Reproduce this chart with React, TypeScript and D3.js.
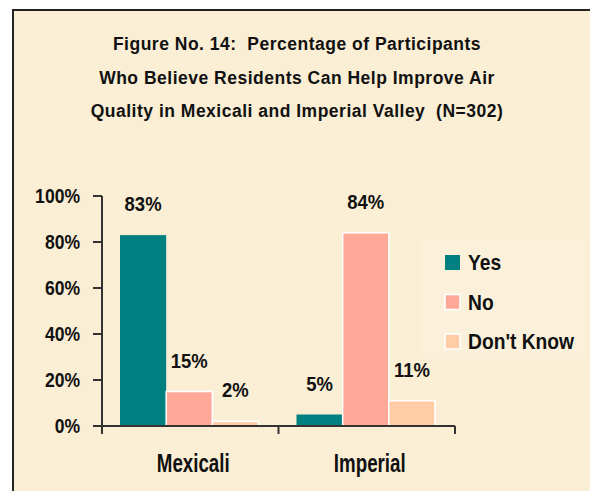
import { useEffect, useRef } from "react";
import * as d3 from "d3";

const categories = ["Mexicali", "Imperial"];
const seriesNames = ["Yes", "No", "Don't Know"];
const yesValues = [83, 5];
const noValues = [15, 84];
const dontKnowValues = [2, 11];
const yTicks = [0, 20, 40, 60, 80, 100];
const titleLines = [
  "Figure No. 14:  Percentage of Participants",
  "Who Believe Residents Can Help Improve Air",
  "Quality in Mexicali and Imperial Valley  (N=302)",
];

const seriesColors = ["#008080", "#ffa898", "#ffcca6"];

function App() {
  const svgRef = useRef(null);

  useEffect(() => {
    document.documentElement.style.overflow = "hidden";
    document.body.style.overflow = "hidden";

    const width = 590;
    const height = 491;
    const margin = { top: 196, right: 135, bottom: 65, left: 102 };
    const font = "'Liberation Sans', Arial, sans-serif";

    const svg = d3.select(svgRef.current).attr("width", width).attr("height", height);
    svg.selectAll("*").remove();

    // background + frame
    svg.append("rect").attr("width", width).attr("height", height).attr("fill", "#ffffff");
    svg
      .append("rect")
      .attr("x", 13)
      .attr("y", 10)
      .attr("width", width - 13)
      .attr("height", height - 10)
      .attr("fill", "#faeed4");
    svg
      .append("path")
      .attr("d", `M13,${height} V10 H${width}`)
      .attr("fill", "none")
      .attr("stroke", "#222")
      .attr("stroke-width", 2);

    // condensed-looking bold text helper
    const label = (x, y, txt, size, anchor, sx, spacing = 0) =>
      svg
        .append("g")
        .attr("transform", `translate(${x},${y}) scale(${sx},1)`)
        .append("text")
        .attr("text-anchor", anchor)
        .attr("font-family", font)
        .attr("font-weight", "bold")
        .attr("font-size", size)
        .attr("letter-spacing", spacing)
        .attr("fill", "#111")
        .style("white-space", "pre")
        .text(txt);

    titleLines.forEach((t, i) => label(297, 50 + i * 33.5, t, 17.5, "middle", 1, 0.5));

    const yScale = d3
      .scaleLinear()
      .domain([0, 100])
      .range([height - margin.bottom, margin.top]);

    const x0 = d3
      .scaleBand()
      .domain(categories)
      .range([margin.left, width - margin.right])
      .padding(0);

    const x1 = d3
      .scaleBand()
      .domain(seriesNames)
      .range([18, x0.bandwidth() - 20]);

    const values = [yesValues, noValues, dontKnowValues];

    // legend backdrop
    svg
      .append("rect")
      .attr("x", 422)
      .attr("y", 238)
      .attr("width", 163)
      .attr("height", 120)
      .attr("fill", "#fbf1db");

    // bars
    categories.forEach((c, ci) => {
      seriesNames.forEach((s, si) => {
        const v = values[si][ci];
        const bx = x0(c) + x1(s);
        svg
          .append("rect")
          .attr("x", bx)
          .attr("y", yScale(v))
          .attr("width", x1.bandwidth())
          .attr("height", yScale(0) - yScale(v))
          .attr("fill", seriesColors[si])
          .attr("stroke", si === 0 ? "none" : "#ffffff")
          .attr("stroke-width", 1.5);
        label(bx + x1.bandwidth() / 2, yScale(v) - 24, `${v}%`, 21, "middle", 0.88);
      });
    });

    // y axis
    const axisColor = "#333";
    svg
      .append("line")
      .attr("x1", margin.left)
      .attr("x2", margin.left)
      .attr("y1", yScale(100))
      .attr("y2", yScale(0) + 8)
      .attr("stroke", axisColor)
      .attr("stroke-width", 2);
    yTicks.forEach((t) => {
      svg
        .append("line")
        .attr("x1", margin.left - 9)
        .attr("x2", margin.left)
        .attr("y1", yScale(t))
        .attr("y2", yScale(t))
        .attr("stroke", axisColor)
        .attr("stroke-width", 2);
      label(80, yScale(t) + 7, `${t}%`, 19.5, "end", 0.9);
    });

    // x axis
    const [xa, xb] = x0.range();
    svg
      .append("line")
      .attr("x1", xa)
      .attr("x2", xb)
      .attr("y1", yScale(0))
      .attr("y2", yScale(0))
      .attr("stroke", axisColor)
      .attr("stroke-width", 2);
    [xa, ...categories.map((c) => x0(c) + x0.bandwidth())].forEach((x) => {
      svg
        .append("line")
        .attr("x1", x)
        .attr("x2", x)
        .attr("y1", yScale(0))
        .attr("y2", yScale(0) + 8)
        .attr("stroke", axisColor)
        .attr("stroke-width", 2);
    });
    categories.forEach((c) => {
      label(x0(c) + x0.bandwidth() / 2 + 3, 472, c, 25, "middle", 0.75);
    });

    // legend
    seriesNames.forEach((s, i) => {
      const ly = 255 + i * 39.5;
      svg
        .append("rect")
        .attr("x", 445)
        .attr("y", ly)
        .attr("width", 15)
        .attr("height", 15)
        .attr("fill", seriesColors[i])
        .attr("stroke", i === 0 ? "none" : "#ffffff")
        .attr("stroke-width", 1.5);
      label(468, ly + 15, s, 22, "start", 0.875);
    });
  }, []);

  return (
    <div style={{ position: "fixed", left: 0, top: 0, width: 590, height: 491, overflow: "hidden" }}>
      <svg ref={svgRef} style={{ display: "block" }}></svg>
    </div>
  );
}

export default App;
